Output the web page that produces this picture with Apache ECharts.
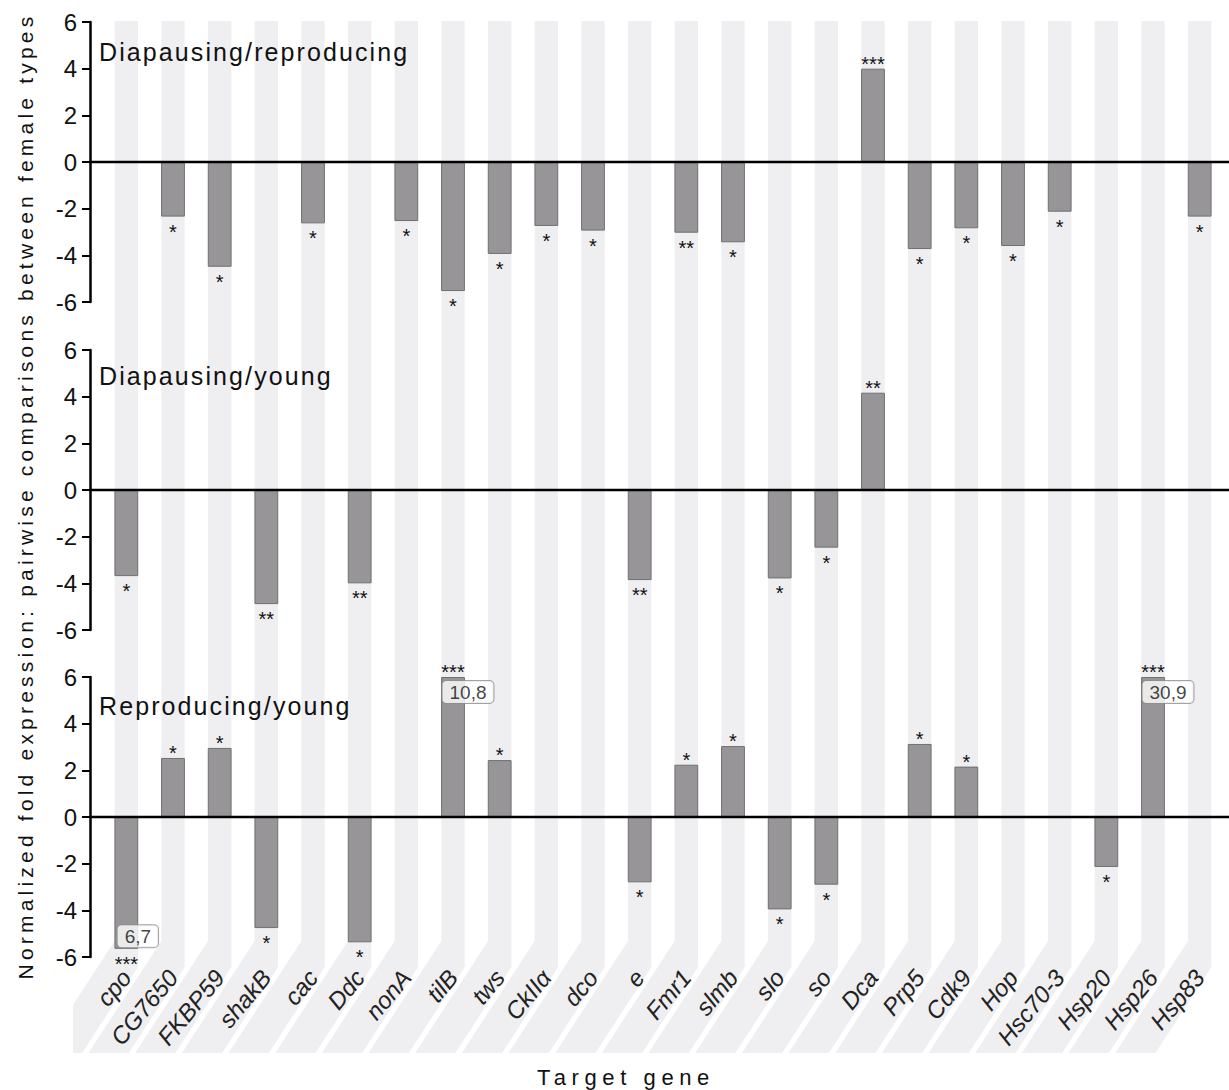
<!DOCTYPE html>
<html><head><meta charset="utf-8">
<script src="https://cdn.jsdelivr.net/npm/echarts@6/dist/echarts.min.js"></script>
<style>html,body{margin:0;padding:0;background:#fff}#c{width:1229px;height:1090px}</style>
</head><body><div id="c"></div>
<script>
// ---------- data ----------
const genes = ['cpo','CG7650','FKBP59','shakB','cac','Ddc','nonA','tilB','tws','CkIIα','dco','e','Fmr1','slmb','slo','so','Dca','Prp5','Cdk9','Hop','Hsc70-3','Hsp20','Hsp26','Hsp83'];
const panelTitles = ['Diapausing/reproducing','Diapausing/young','Reproducing/young'];
const yTicks = [-6, -4, -2, 0, 2, 4, 6];
const yTitle = 'Normalized fold expression: pairwise comparisons between female types';
const xTitle = 'Target gene';

const diapRepro    = [null,-2.34,-4.49,null,-2.63,null,-2.53,-5.53,-3.94,-2.74,-2.94,null,-3.03,-3.44,null,null,4.0,-3.73,-2.84,-3.6,-2.13,null,null,-2.34];
const diapReproSig = ['','*','*','','*','','*','*','*','*','*','','**','*','','','***','*','*','*','*','','','*'];

const diapYoung    = [-3.69,null,null,-4.89,null,-4.0,null,null,null,null,null,-3.86,null,null,-3.79,-2.47,4.17,null,null,null,null,null,null,null];
const diapYoungSig = ['*','','','**','','**','','','','','','**','','','*','*','**','','','','','','',''];

const reproYoung    = [-5.65,2.53,2.96,-4.76,null,-5.37,null,6,2.44,null,null,-2.8,2.24,3.04,-3.96,-2.9,null,3.13,2.16,null,null,-2.14,6,null];
const reproYoungSig = ['***','*','*','*','','*','','***','*','','','*','*','*','*','*','','*','*','','','*','***',''];

// off-scale bars in the bottom panel and their true values
const offscaleGenes  = ['cpo','tilB','Hsp26'];
const offscaleLabels = ['6,7','10,8','30,9'];

const panelValues = [diapRepro, diapYoung, reproYoung];
const panelSigs = [diapReproSig, diapYoungSig, reproYoungSig];

// ---------- layout ----------
const FONT = '"Liberation Sans", Arial, Helvetica, sans-serif';
const gridTops = [22, 350, 677];
const gridH = 280;
const gridLeft = 103, gridRight = 6;
const stripe = '#efeef1';

const chart = echarts.init(document.getElementById('c'), null, {renderer: 'svg'});

function clipLeft(pts, c) {
  const out = [];
  for (let k = 0; k < pts.length; k++) {
    const P = pts[k], Q = pts[(k + 1) % pts.length];
    const Pin = P[0] >= c, Qin = Q[0] >= c;
    if (Pin) out.push(P);
    if (Pin !== Qin) {
      const t = (c - P[0]) / (Q[0] - P[0]);
      out.push([c, P[1] + t * (Q[1] - P[1])]);
    }
  }
  return out;
}

function renderStripe(params, api) {
  const cs = params.coordSys;
  const cx = api.coord([api.value(0), 0])[0];
  const w = api.size([1, 0])[0] * 0.5;
  const L = cx - w / 2, R = cx + w / 2;
  const top = cs.y, bot = cs.y + cs.height;
  const yA = bot - 16, yB = bot + 10, yEnd = bot + 96, s = 0.65;
  let pts = [[L, top], [R, top], [R, yB], [R - s * (yEnd - yB), yEnd], [L - s * (yEnd - yA), yEnd], [L, yA]];
  pts = clipLeft(pts, cs.x - 30);
  return {type: 'polygon', shape: {points: pts}, style: {fill: stripe}, silent: true};
}

function renderZero(params, api) {
  const cs = params.coordSys;
  const y = api.coord([0, 0])[1];
  return {type: 'line', shape: {x1: cs.x - 14, y1: y, x2: cs.x + cs.width + gridRight, y2: y},
          style: {stroke: '#000', lineWidth: 2.5}, silent: true};
}

const grids = gridTops.map(t => ({left: gridLeft, right: gridRight, top: t, height: gridH}));
grids.push({left: gridLeft, right: gridRight, top: 21, height: gridTops[2] + gridH - 21});

const xAxes = [0, 1, 2, 3].map(k => ({
  type: 'category', gridIndex: k, data: genes, boundaryGap: true,
  axisLine: {show: false, onZero: false}, axisTick: {show: false}, splitLine: {show: false},
  axisLabel: k === 2 ? {
    show: true, interval: 0, rotate: 50, margin: 16, fontSize: 24, fontStyle: 'italic',
    fontFamily: FONT, color: '#222'
  } : {show: false}
}));

const yAxes = [0, 1, 2].map(k => ({
  type: 'value', gridIndex: k, min: yTicks[0], max: yTicks[yTicks.length - 1], interval: yTicks[1] - yTicks[0],
  offset: 13,
  axisLine: {show: true, lineStyle: {color: '#000', width: 2.5}},
  axisTick: {show: true, length: 8, lineStyle: {color: '#000', width: 2}},
  splitLine: {show: false},
  axisLabel: {fontSize: 24, margin: 13, color: '#111', fontFamily: FONT}
}));
yAxes.push({type: 'value', gridIndex: 3, min: 0, max: 1, show: false});

const series = [];
series.push({
  type: 'custom', xAxisIndex: 3, yAxisIndex: 3, z: -5, silent: true,
  renderItem: renderStripe, data: genes.map(g => [g, 1]), clip: false
});
panelValues.forEach((vals, k) => {
  const sig = panelSigs[k];
  series.push({
    type: 'bar', xAxisIndex: k, yAxisIndex: k, barWidth: '51%',
    itemStyle: {color: '#979597', borderColor: '#707070', borderWidth: 1},
    data: vals.map((v, i) => v == null ? '-' : {
      value: v,
      label: v >= 0 ? {position: 'top', distance: 0, offset: [0, 1]} : {position: 'bottom', distance: 9}
    }),
    label: {show: true, fontSize: 20, lineHeight: 12, color: '#111', fontFamily: FONT,
            formatter: p => sig[p.dataIndex]}
  });
  series.push({
    type: 'custom', xAxisIndex: k, yAxisIndex: k, z: 3, silent: true, clip: false,
    renderItem: renderZero, data: [[genes[0], 0]]
  });
});
series.push({
  type: 'scatter', xAxisIndex: 2, yAxisIndex: 2, symbolSize: 0, z: 5, silent: true,
  data: offscaleGenes.map((g, j) => {
    const v = reproYoung[genes.indexOf(g)];
    return {
      value: [g, v],
      label: {offset: v < 0 ? [11.5, -12.5] : [15, 15]}
    };
  }),
  label: {
    show: true, position: 'inside', fontSize: 19, lineHeight: 19, color: '#111', fontFamily: FONT,
    backgroundColor: '#fff', borderColor: '#8c8c8c', borderWidth: 1, borderRadius: 4,
    padding: [2, 7, 1, 7],
    formatter: p => offscaleLabels[p.dataIndex]
  }
});

const option = {
  animation: false,
  backgroundColor: '#fff',
  title: panelTitles.map((t, k) => ({
    text: t, left: 94, top: [34, 358, 688][k], padding: 5,
    textStyle: {fontSize: 25, fontWeight: 'normal', color: '#111', fontFamily: FONT}
  })),
  grid: grids,
  xAxis: xAxes,
  yAxis: yAxes,
  graphic: [
    {type: 'text', x: 25, y: 496, rotation: Math.PI / 2, silent: true,
     style: {text: yTitle, fontSize: 21, fontFamily: FONT, fill: '#111', textAlign: 'center', textVerticalAlign: 'middle'}},
    {type: 'text', x: 626, y: 1077, silent: true,
     style: {text: xTitle, fontSize: 22, fontFamily: FONT, fill: '#111', textAlign: 'center', textVerticalAlign: 'middle'}}
  ],
  series: series
};
chart.setOption(option);

const spacing = {};
spacing[yTitle] = 4.2;
spacing[xTitle] = 5.6;
panelTitles.forEach(t => spacing[t] = 2.1);
function applySpacing() {
  document.querySelectorAll('#c svg text').forEach(el => {
    const s = spacing[el.textContent];
    if (s != null) el.setAttribute('letter-spacing', s);
  });
}
chart.on('finished', applySpacing);
setTimeout(applySpacing, 50);
setTimeout(applySpacing, 400);
</script>
</body></html>
